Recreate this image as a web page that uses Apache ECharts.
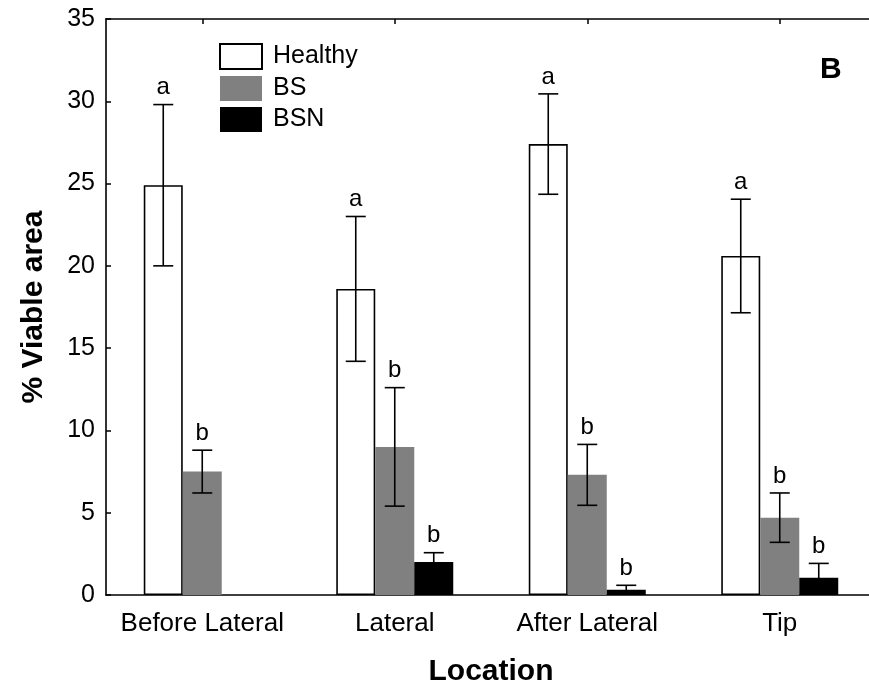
<!DOCTYPE html>
<html>
<head>
<meta charset="utf-8">
<script src="https://cdn.jsdelivr.net/npm/echarts@6/dist/echarts.min.js"></script>
<style>
html,body{margin:0;padding:0;background:#fff;overflow:hidden;}
#chart{width:869px;height:689px;overflow:hidden;position:relative;}
</style>
</head>
<body>
<div id="chart"></div>
<script>
const categories = ['Before Lateral', 'Lateral', 'After Lateral', 'Tip'];
const healthy = [24.9, 18.6, 27.4, 20.6];
const healthyErr = [4.9, 4.4, 3.05, 3.45];
const bs = [7.5, 9.0, 7.3, 4.7];
const bsErr = [1.3, 3.6, 1.85, 1.5];
const bsn = [null, 2.0, 0.32, 1.05];
const bsnErr = [null, 0.57, 0.27, 0.87];
const healthyLetters = ['a', 'a', 'a', 'a'];
const bsLetters = ['b', 'b', 'b', 'b'];
const bsnLetters = [null, 'b', 'b', 'b'];
const yTicks = { min: 0, max: 35, interval: 5 };

const FONT = "'Liberation Sans', Arial, sans-serif";
const BAR_W = 39;

function errSeries(name, vals, errs, letters, offsetIdx) {
  const data = [];
  vals.forEach((v, i) => { if (v !== null) data.push([i, v, errs[i]]); });
  return {
    type: 'custom',
    name: name + ' err',
    z: 10,
    clip: false,
    silent: true,
    data: data,
    renderItem: function (params, api) {
      const ci = api.value(0), v = api.value(1), e = api.value(2);
      const top = api.coord([ci, v + e]);
      const bot = api.coord([ci, v - e]);
      const x = top[0] + offsetIdx * BAR_W;
      const cap = 10;
      const style = { stroke: '#000', lineWidth: 1.6 };
      const children = [
        { type: 'line', shape: { x1: x, y1: top[1], x2: x, y2: bot[1] }, style: style },
        { type: 'line', shape: { x1: x - cap, y1: top[1], x2: x + cap, y2: top[1] }, style: style },
        { type: 'line', shape: { x1: x - cap, y1: bot[1], x2: x + cap, y2: bot[1] }, style: style }
      ];
      const letter = letters[ci];
      if (letter) {
        children.push({
          type: 'text',
          style: {
            text: letter, x: x, y: top[1] - 5,
            align: 'center', verticalAlign: 'bottom',
            fill: '#000', font: '24px ' + FONT
          }
        });
      }
      return { type: 'group', children: children };
    }
  };
}

const chart = echarts.init(document.getElementById('chart'), null, { renderer: 'canvas', width: 876, height: 689 });
const axisLine = { show: true, onZero: false, lineStyle: { color: '#000', width: 1.6 } };
const option = {
  animation: false,
  backgroundColor: '#fff',
  textStyle: { fontFamily: FONT },
  grid: { left: 106, top: 19, right: 0, height: 576, containLabel: false, outerBoundsMode: 'none' },
  legend: {
    orient: 'vertical',
    left: 219, top: 43, padding: 0,
    itemWidth: 42, itemHeight: 25, itemGap: 6,
    icon: 'rect',
    data: ['Healthy', 'BS', 'BSN'],
    textStyle: { fontSize: 25, color: '#000', fontFamily: FONT, padding: [0, 0, 0, 6] }
  },
  xAxis: [
    {
      type: 'category', data: categories, position: 'bottom',
      axisLine: axisLine,
      axisTick: { show: true, inside: true, alignWithLabel: true, length: 5, lineStyle: { color: '#000', width: 1.5 } },
      axisLabel: { color: '#000', fontSize: 26, margin: 16, fontFamily: FONT, interval: 0 },
      name: 'Location', nameLocation: 'middle', nameGap: 62,
      nameTextStyle: { color: '#000', fontSize: 30, fontWeight: 'bold', fontFamily: FONT },
      splitLine: { show: false }
    },
    {
      type: 'category', data: categories, position: 'top',
      axisLine: axisLine,
      axisTick: { show: true, inside: true, alignWithLabel: true, length: 5, lineStyle: { color: '#000', width: 1.5 } },
      axisLabel: { show: false },
      splitLine: { show: false }
    }
  ],
  yAxis: [
    {
      type: 'value', min: yTicks.min, max: yTicks.max, interval: yTicks.interval, position: 'left',
      axisLine: axisLine,
      axisTick: { show: true, inside: true, length: 5, lineStyle: { color: '#000', width: 1.5 } },
      axisLabel: { color: '#000', fontSize: 25, margin: 11, fontFamily: FONT },
      splitLine: { show: false },
      name: '% Viable area', nameLocation: 'middle', nameGap: 57,
      nameTextStyle: { color: '#000', fontSize: 30, fontWeight: 'bold', fontFamily: FONT }
    },
    {
      type: 'value', min: yTicks.min, max: yTicks.max, interval: yTicks.interval, position: 'right',
      axisLine: axisLine,
      axisTick: { show: true, inside: true, length: 5 },
      axisLabel: { show: false },
      splitLine: { show: false }
    }
  ],
  graphic: [
    { type: 'text', left: 820, top: 55, style: { text: 'B', font: 'bold 30px ' + FONT, fill: '#000' } }
  ],
  series: [
    { name: 'Healthy', type: 'bar', data: healthy, barWidth: BAR_W, barGap: '0%',
      itemStyle: { color: '#fff', borderColor: '#000', borderWidth: 1.6 } },
    { name: 'BS', type: 'bar', data: bs, barWidth: BAR_W, barGap: '0%',
      itemStyle: { color: '#808080' } },
    { name: 'BSN', type: 'bar', data: bsn, barWidth: BAR_W, barGap: '0%',
      itemStyle: { color: '#000' } },
    errSeries('Healthy', healthy, healthyErr, healthyLetters, -1),
    errSeries('BS', bs, bsErr, bsLetters, 0),
    errSeries('BSN', bsn, bsnErr, bsnLetters, 1)
  ]
};
chart.setOption(option);
</script>
</body>
</html>
